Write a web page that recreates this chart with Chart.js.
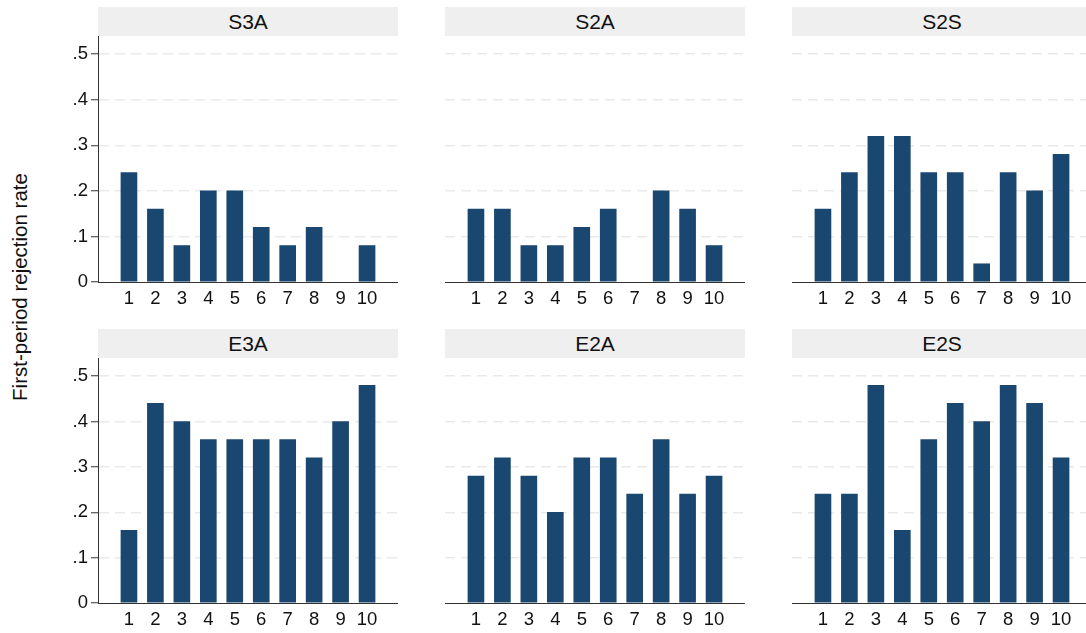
<!DOCTYPE html>
<html>
<head>
<meta charset="utf-8">
<script src="https://cdn.jsdelivr.net/npm/chart.js@4/dist/chart.umd.min.js"></script>
<style>
  html, body { margin: 0; padding: 0; background: #fff; overflow: hidden; }
  body { width: 1086px; height: 633px; position: relative; font-family: "Liberation Sans", Arial, Helvetica, sans-serif; }
  .panel { position: absolute; }
  .head {
    position: absolute; background: #efefef; color: #111;
    font-size: 21px; text-align: center; line-height: 29px; height: 29px;
  }
  .ytitle {
    position: absolute; left: 20px; top: 287px; white-space: nowrap;
    transform: translate(-50%, -50%) rotate(-90deg);
    font-size: 20.5px; color: #111;
  }
</style>
</head>
<body>
<div class="ytitle">First-period rejection rate</div>
<script>
// Group index along the x axis
const groups = [1, 2, 3, 4, 5, 6, 7, 8, 9, 10];
// Y-axis tick values and their labels
const yTicks = [0, 0.1, 0.2, 0.3, 0.4, 0.5];
const yTickLabels = ['0', '.1', '.2', '.3', '.4', '.5'];

// Panel titles, in reading order
const panelNames = ['S3A', 'S2A', 'S2S', 'E3A', 'E2A', 'E2S'];

// First-period rejection rate per group, one array per treatment
const S3A = [0.24, 0.16, 0.08, 0.20, 0.20, 0.12, 0.08, 0.12, 0.00, 0.08];
const S2A = [0.16, 0.16, 0.08, 0.08, 0.12, 0.16, 0.00, 0.20, 0.16, 0.08];
const S2S = [0.16, 0.24, 0.32, 0.32, 0.24, 0.24, 0.04, 0.24, 0.20, 0.28];
const E3A = [0.16, 0.44, 0.40, 0.36, 0.36, 0.36, 0.36, 0.32, 0.40, 0.48];
const E2A = [0.28, 0.32, 0.28, 0.20, 0.32, 0.32, 0.24, 0.36, 0.24, 0.28];
const E2S = [0.24, 0.24, 0.48, 0.16, 0.36, 0.44, 0.40, 0.48, 0.44, 0.32];
const panelValues = [S3A, S2A, S2S, E3A, E2A, E2S];

// Plot-area geometry
const PLOT_W = 300;
const COL_LEFT = [98, 445, 792];
const ROW_TOP = [36, 358];
const ROW_BOTTOM = [282, 603];
const Y_AXIS_W = 60;
const X_AXIS_H = 30;
const HEAD_H = 29;

const FONT = '"Liberation Sans", Arial, Helvetica, sans-serif';
const BAR = '#1a476f';
const AXIS = '#333333';
const GRID = '#e9e9e9';

// Keep every plot area exactly where the layout puts it
function fixPadding(axis) {
  axis.paddingTop = 0;
  axis.paddingBottom = 0;
  axis.paddingLeft = 0;
  axis.paddingRight = 0;
}

panelNames.forEach((name, i) => {
  const row = Math.floor(i / 3), col = i % 3;
  const left = COL_LEFT[col], top = ROW_TOP[row];
  const plotH = ROW_BOTTOM[row] - top;
  const firstCol = col === 0;

  const head = document.createElement('div');
  head.className = 'head';
  head.textContent = name;
  head.style.left = left + 'px';
  head.style.top = (top - HEAD_H) + 'px';
  head.style.width = PLOT_W + 'px';
  document.body.appendChild(head);

  const wrap = document.createElement('div');
  wrap.className = 'panel';
  wrap.style.left = (left - Y_AXIS_W) + 'px';
  wrap.style.top = top + 'px';
  wrap.style.width = (Y_AXIS_W + PLOT_W) + 'px';
  wrap.style.height = (plotH + X_AXIS_H) + 'px';
  const canvas = document.createElement('canvas');
  wrap.appendChild(canvas);
  document.body.appendChild(wrap);

  new Chart(canvas, {
    type: 'bar',
    data: {
      datasets: [{
        data: groups.map((g, k) => ({ x: g, y: panelValues[i][k] })),
        backgroundColor: (ctx) => (ctx.raw && ctx.raw.y === 0 ? 'rgba(0,0,0,0)' : BAR),
        borderWidth: 0,
        barThickness: 16
      }]
    },
    options: {
      responsive: true,
      maintainAspectRatio: false,
      animation: false,
      layout: { padding: 0 },
      plugins: { legend: { display: false }, tooltip: { enabled: false } },
      scales: {
        x: {
          type: 'linear',
          offset: false,
          min: -0.17,
          max: 11.17,
          afterBuildTicks: (axis) => { axis.ticks = groups.map(v => ({ value: v })); },
          afterFit: (axis) => { axis.height = X_AXIS_H; fixPadding(axis); },
          grid: { display: false, drawTicks: false, offset: false },
          border: { display: true, color: AXIS, width: 1 },
          ticks: {
            padding: 6,
            color: '#111',
            font: { family: FONT, size: 18.5 },
            maxRotation: 0,
            autoSkip: false,
            callback: (v) => String(v)
          }
        },
        y: {
          min: 0,
          max: 0.54,
          afterBuildTicks: (axis) => { axis.ticks = yTicks.map(v => ({ value: v })); },
          afterFit: (axis) => { axis.width = Y_AXIS_W; fixPadding(axis); },
          grid: {
            color: (ctx) => (ctx.tick && ctx.tick.value === 0 ? 'rgba(0,0,0,0)' : GRID),
            lineWidth: 1.5,
            drawTicks: firstCol,
            tickLength: 7,
            tickColor: AXIS,
            tickWidth: 1
          },
          border: { display: firstCol, color: AXIS, width: 1, dash: [10, 6] },
          ticks: {
            display: firstCol,
            padding: 3,
            color: '#111',
            font: { family: FONT, size: 18.5 },
            callback: (v) => {
              const k = yTicks.findIndex(t => Math.abs(t - v) < 1e-9);
              return k >= 0 ? yTickLabels[k] : '';
            }
          }
        }
      }
    }
  });
});
</script>
</body>
</html>
